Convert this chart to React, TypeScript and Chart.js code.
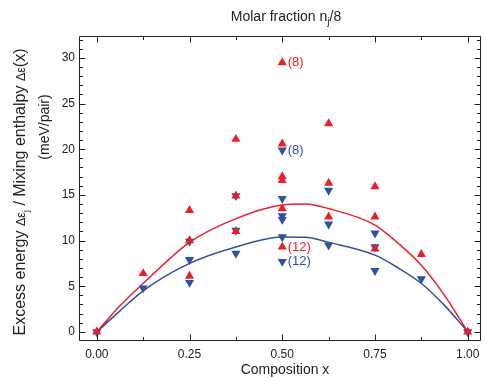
import React, { useEffect, useRef } from 'react';
import { Chart, registerables } from 'chart.js';

Chart.register(...registerables);

const RED = '#E8202A';
const BLUE = '#2F52A0';
const INK = '#222222';
const FONT = '"Liberation Sans", Arial, Helvetica, sans-serif';

// Measured excess energies (red up-triangles / blue down-triangles)
const redX = [0, 0.125, 0.25, 0.25, 0.25, 0.375, 0.375, 0.375, 0.5, 0.5, 0.5, 0.5, 0.5, 0.5, 0.625, 0.625, 0.625, 0.75, 0.75, 0.75, 0.875, 1];
const redY = [0, 6.4, 13.3, 10.0, 6.1, 21.1, 14.9, 11.0, 29.5, 20.6, 17.0, 16.6, 13.5, 9.3, 22.8, 16.3, 12.6, 15.9, 12.6, 9.1, 8.5, 0];
const blueX = [0, 0.125, 0.25, 0.25, 0.25, 0.375, 0.375, 0.375, 0.5, 0.5, 0.5, 0.5, 0.5, 0.5, 0.625, 0.625, 0.625, 0.75, 0.75, 0.75, 0.875, 1];
const blueY = [0, 4.8, 9.9, 7.9, 5.4, 14.9, 11.1, 8.6, 19.9, 14.6, 12.7, 12.3, 10.4, 7.7, 15.5, 11.8, 9.5, 10.8, 9.3, 6.7, 5.8, 0];

// Fitted mixing-enthalpy curves (samples)
const fitX = [0, 0.0625, 0.125, 0.25, 0.375, 0.5, 0.5625, 0.625, 0.75, 0.8125, 0.875, 0.9375, 1];
const redFit = [0, 2.85, 5.3, 9.8, 12.4, 13.9, 14.0, 13.5, 11.7, 9.7, 7.3, 4.0, 0];
const blueFit = [0, 2.3, 4.5, 7.5, 9.3, 10.4, 10.35, 9.8, 8.4, 7.0, 5.3, 2.9, 0];

// Annotations
const noteX = [0.5, 0.5, 0.5, 0.5];
const noteY = [29.5, 19.9, 9.3, 7.7];
const noteText = ['(8)', '(8)', '(12)', '(12)'];
const noteColor = [RED, BLUE, RED, BLUE];

// Axes
const xMin = -0.048;
const xMax = 1.035;
const yMin = -1;
const yMax = 32.4;
const xTicks = [0, 0.25, 0.5, 0.75, 1];
const xMinorTicks = [0.125, 0.375, 0.625, 0.875];
const yTicks = [0, 5, 10, 15, 20, 25, 30];
const yMinorTicks = [1, 2, 3, 4, 6, 7, 8, 9, 11, 12, 13, 14, 16, 17, 18, 19, 21, 22, 23, 24, 26, 27, 28, 29, 31, 32];

type Part = { text: string; size: number; dy?: number };

function partsWidth(ctx: CanvasRenderingContext2D, parts: Part[]) {
  let w = 0;
  for (const p of parts) {
    ctx.font = `${p.size}px ${FONT}`;
    w += ctx.measureText(p.text).width;
  }
  return w;
}

function drawParts(ctx: CanvasRenderingContext2D, parts: Part[], x: number, y: number) {
  let cx = x;
  for (const p of parts) {
    ctx.font = `${p.size}px ${FONT}`;
    ctx.fillText(p.text, cx, y + (p.dy || 0));
    cx += ctx.measureText(p.text).width;
  }
}

const framePlugin = {
  id: 'frameAndTitles',
  afterDraw(chart: any) {
    const ctx: CanvasRenderingContext2D = chart.ctx;
    const { left, right, top, bottom } = chart.chartArea;
    const xs = chart.scales.x;
    const ys = chart.scales.y;
    ctx.save();
    ctx.strokeStyle = INK;
    ctx.lineWidth = 1;
    const L = Math.round(left) + 0.5;
    const R = Math.round(right) - 0.5;
    const T = Math.round(top) + 0.5;
    const B = Math.round(bottom) - 0.5;
    ctx.beginPath();
    ctx.rect(L, T, R - L, B - T);
    ctx.stroke();

    const major = 6;
    const minor = 3.5;
    ctx.beginPath();
    const xt = (v: number, len: number) => {
      const px = Math.round(xs.getPixelForValue(v)) + 0.5;
      ctx.moveTo(px, B);
      ctx.lineTo(px, B - len);
      ctx.moveTo(px, T);
      ctx.lineTo(px, T + len);
    };
    const yt = (v: number, len: number) => {
      const py = Math.round(ys.getPixelForValue(v)) + 0.5;
      ctx.moveTo(L, py);
      ctx.lineTo(L + len, py);
      ctx.moveTo(R, py);
      ctx.lineTo(R - len, py);
    };
    xTicks.forEach((v) => xt(v, major));
    xMinorTicks.forEach((v) => xt(v, minor));
    yTicks.forEach((v) => yt(v, major));
    yMinorTicks.forEach((v) => yt(v, minor));
    ctx.stroke();

    // annotations
    ctx.textBaseline = 'middle';
    ctx.textAlign = 'left';
    ctx.font = `13px ${FONT}`;
    noteText.forEach((t, i) => {
      ctx.fillStyle = noteColor[i];
      ctx.fillText(t, xs.getPixelForValue(noteX[i]) + 5.5, ys.getPixelForValue(noteY[i]));
    });

    // titles
    ctx.fillStyle = INK;
    ctx.textBaseline = 'alphabetic';
    ctx.textAlign = 'left';
    const topParts: Part[] = [
      { text: 'Molar fraction n', size: 14 },
      { text: 'j', size: 10, dy: 4 },
      { text: '/8', size: 14 },
    ];
    const tw = partsWidth(ctx, topParts);
    drawParts(ctx, topParts, 286 - tw / 2, 21);

    const botParts: Part[] = [{ text: 'Composition x', size: 14 }];
    const bw = partsWidth(ctx, botParts);
    drawParts(ctx, botParts, 285 - bw / 2, 374);

    const y1: Part[] = [
      { text: 'Excess energy ', size: 16 },
      { text: 'Δε', size: 12.5 },
      { text: 'j', size: 9.5, dy: 4 },
      { text: ' / Mixing enthalpy ', size: 16 },
      { text: 'Δε', size: 12.5 },
      { text: '(x)', size: 16 },
    ];
    const y1w = partsWidth(ctx, y1);
    ctx.save();
    ctx.translate(25, 192);
    ctx.rotate(-Math.PI / 2);
    drawParts(ctx, y1, -y1w / 2, 0);
    ctx.restore();

    const y2: Part[] = [{ text: '(meV/pair)', size: 14 }];
    const y2w = partsWidth(ctx, y2);
    ctx.save();
    ctx.translate(49, 127);
    ctx.rotate(-Math.PI / 2);
    drawParts(ctx, y2, -y2w / 2, 0);
    ctx.restore();

    ctx.restore();
  },
};

export default function App() {
  const ref = useRef<HTMLCanvasElement | null>(null);

  useEffect(() => {
    if (!ref.current) return;
    const toPts = (xa: number[], ya: number[]) => xa.map((x, i) => ({ x, y: ya[i] }));
    const chart = new Chart(ref.current, {
      type: 'scatter',
      data: {
        datasets: [
          {
            label: 'red points',
            data: toPts(redX, redY),
            pointStyle: 'triangle',
            pointRadius: 5.3,
            pointHoverRadius: 5.3,
            backgroundColor: RED,
            borderColor: RED,
            borderWidth: 0,
            order: 1,
          },
          {
            label: 'blue points',
            data: toPts(blueX, blueY),
            pointStyle: 'triangle',
            rotation: 180,
            pointRadius: 5.3,
            pointHoverRadius: 5.3,
            backgroundColor: BLUE,
            borderColor: BLUE,
            borderWidth: 0,
            order: 2,
          },
          {
            label: 'red fit',
            data: toPts(fitX, redFit),
            showLine: true,
            pointRadius: 0,
            borderColor: RED,
            borderWidth: 1.5,
            cubicInterpolationMode: 'monotone',
            order: 3,
          } as any,
          {
            label: 'blue fit',
            data: toPts(fitX, blueFit),
            showLine: true,
            pointRadius: 0,
            borderColor: BLUE,
            borderWidth: 1.5,
            cubicInterpolationMode: 'monotone',
            order: 4,
          } as any,
        ],
      },
      options: {
        animation: false,
        responsive: false,
        devicePixelRatio: 1,
        layout: { padding: { top: 36, right: 3, left: 0, bottom: 0 } },
        plugins: { legend: { display: false }, tooltip: { enabled: false } },
        events: [],
        scales: {
          x: {
            type: 'linear',
            min: xMin,
            max: xMax,
            grid: { display: false, drawTicks: false },
            border: { display: false },
            afterBuildTicks: (s: any) => {
              s.ticks = xTicks.map((v) => ({ value: v }));
            },
            afterFit: (s: any) => {
              s.height = 40;
            },
            ticks: {
              padding: 6,
              color: INK,
              font: { family: FONT, size: 12 },
              maxRotation: 0,
              callback: (v: any) => Number(v).toFixed(2),
            },
          },
          y: {
            type: 'linear',
            min: yMin,
            max: yMax,
            grid: { display: false, drawTicks: false },
            border: { display: false },
            afterBuildTicks: (s: any) => {
              s.ticks = yTicks.map((v) => ({ value: v }));
            },
            afterFit: (s: any) => {
              s.width = 79;
            },
            ticks: {
              padding: 4,
              color: INK,
              font: { family: FONT, size: 12 },
              callback: (v: any) => String(v),
            },
          },
        },
      },
      plugins: [framePlugin],
    } as any);
    return () => chart.destroy();
  }, []);

  return (
    <div style={{ position: 'fixed', left: 0, top: 0, width: 486, height: 381, background: '#fff' }}>
      <canvas ref={ref} width={486} height={381} style={{ display: 'block', width: 486, height: 381 }} />
    </div>
  );
}
